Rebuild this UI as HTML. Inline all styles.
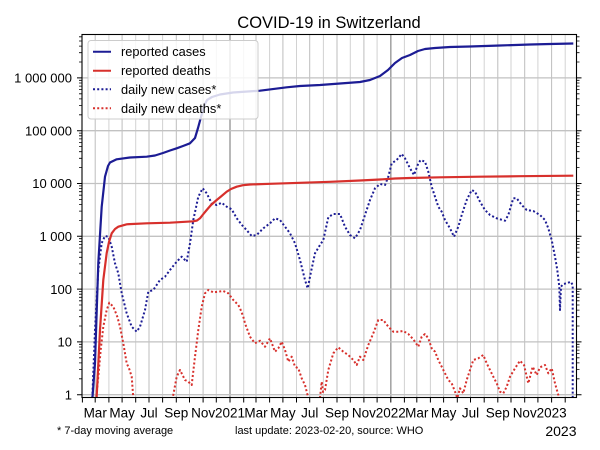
<!DOCTYPE html>
<html><head><meta charset="utf-8"><style>
html,body{margin:0;padding:0;background:#fff;}
svg{display:block;font-family:"Liberation Sans",Arial,sans-serif;}
</style></head><body>
<svg width="600" height="450" viewBox="0 0 600 450" xmlns="http://www.w3.org/2000/svg">
<defs><clipPath id="pc"><rect x="82" y="34.5" width="494.5" height="363"/></clipPath></defs>
<rect x="0" y="0" width="600" height="450" fill="#fff"/>
<!-- vertical gridlines -->
<g stroke="#d2d2d2" stroke-width="1" fill="none">
<path d="M108.9,34.5V397.5M135.7,34.5V397.5M162.6,34.5V397.5M189.5,34.5V397.5M216.3,34.5V397.5M243.7,34.5V397.5M269.6,34.5V397.5M296.5,34.5V397.5M323.4,34.5V397.5M350.3,34.5V397.5M377.1,34.5V397.5M404.4,34.5V397.5M430.4,34.5V397.5M457.3,34.5V397.5M484.2,34.5V397.5M511,34.5V397.5M537.9,34.5V397.5M565.2,34.5V397.5"/>
</g>
<g stroke="#bdbdbd" stroke-width="1" fill="none">
<path d="M95.2,34.5V397.5M122.1,34.5V397.5M149,34.5V397.5M176.3,34.5V397.5M203.1,34.5V397.5M256,34.5V397.5M282.9,34.5V397.5M309.7,34.5V397.5M337,34.5V397.5M363.9,34.5V397.5M416.8,34.5V397.5M443.6,34.5V397.5M470.5,34.5V397.5M497.8,34.5V397.5M524.7,34.5V397.5M551.6,34.5V397.5"/>
</g>
<g stroke="#a6a6a6" stroke-width="1.6" fill="none">
<path d="M230,34.5V397.5M390.8,34.5V397.5"/>
</g>
<!-- horizontal gridlines -->
<g stroke="#c2c2c2" stroke-width="1.3" fill="none">
<path d="M82,394.7H576.5M82,341.9H576.5M82,289.1H576.5M82,236.3H576.5M82,183.5H576.5M82,130.7H576.5M82,77.9H576.5"/>
</g>
<!-- data -->
<g clip-path="url(#pc)" fill="none" stroke-linejoin="round">
<polyline stroke="#1c1c94" stroke-width="2" stroke-dasharray="2 2.2" points="92.3,398 95,330 98.3,270 101.7,243 105,236 108.3,236.7 111.7,246.7 115,263.3 118.3,273.3 121.7,293.3 126.7,313.3 131.7,326.7 136.7,331.7 140,326.7 145,310 148.3,291.7 153.3,290 160,280 165,276.7 170,270 176.7,261.7 181.7,256.7 186.7,261.7 190,243.3 193.3,220 198.3,196.7 202.7,188.3 206.7,193.3 211.7,203.3 216.7,205 221.7,202.7 226.7,206.7 231.7,209.3 236.7,218.3 243.3,226.7 245,228.3 251.7,236 256.7,235 263.3,228.3 270,223.3 275,218.3 280,220 285,226.7 290,233.3 295,243.3 300,260 305,280 307.7,288.3 310.7,273.3 315,253.3 320,245 323.3,240 328.3,217.3 333.3,214 340,214 345,226.7 350,235 355,238.3 360,230 365,215 370,200 375,188.3 380,184 385,185 388.3,176.7 391.7,163.3 396.7,160 401.7,154 405,158.3 410,168.3 414,175 418.3,163.3 420.7,160 425,161.7 428.3,171.7 431.7,186.7 435,196.7 438.3,206.7 441.7,211.7 445,220 450,228.3 454,236.7 458.3,226.7 461.7,215 466.7,200 471.7,190 475,191.7 480,201.7 485,210 490,215 496.7,218.3 505,220.7 508.3,215 513.3,198.3 516.7,198.3 521.7,205 526.7,210 533.3,211 540,215 545,220 548.3,228.3 551.7,240 555,256.7 557.3,270 559.3,286.7 560,310 561,286.7 563.3,284 566.7,283.3 570.7,281.7 572.7,285 572.7,400"/>
<polyline stroke="#d7302c" stroke-width="2" stroke-dasharray="2 2.2" points="96,400 98.3,376.7 100.7,350 103.3,326.7 106.7,310 109.3,302.7 113.3,306.7 117.3,316.7 120,326.7 123.3,343.3 126.7,363.3 129,368.3 131.7,376.7 133.3,398 135,412 171,412 172.7,398 176.7,376.7 180,370 185,380 188.3,381.7 191.7,385 195,356.7 198.3,330 201.7,306.7 205,293.3 208.3,290 213.3,292.3 218.3,291.7 223.3,291 228.3,293.3 233.3,300 238.3,305 240,308.3 243.3,316.7 245,323.3 250,336.7 255,343.3 260,340.7 265,346.7 270,338.3 275,351.7 278.3,348.3 281.7,341.7 285,350 288.3,361.7 291.7,356.7 295,366.7 298.3,368.3 301.7,378.3 305,385 308.3,398 310,412 319,412 320,398 321.7,381.7 323,392 325,390 328.3,370 333.3,353.3 338.3,347.3 343.3,351.7 348.3,355 353.3,360 356.7,365 360,356.7 363.3,360 368.3,345 373.3,333.3 378.3,320 383.3,320 388.3,326.7 393.3,331.7 398.3,331.7 403.3,331 408.3,334 413.3,339.3 418.3,346.7 421.7,336.7 425,334 428.3,338.3 431.7,348.3 435,351.7 438.3,360 441.7,366.7 445,373.3 448.3,380 451.7,383.3 455,391.7 457.3,398 460,388.3 463.3,393.3 466.7,380 470,370 473.3,360 478.3,358.3 483.3,355 486.7,363.3 490,370 493.3,376.7 496.7,383.3 500,391.7 503.3,393.3 506.7,386.7 510,376.7 515,368.3 520,360.7 524,365 528.3,383.3 532.7,366.7 536.7,375 540,367.3 545,365 548.3,373.3 551.7,368.3 555,383.3 558.3,395 560,408"/>
<polyline stroke="#d7302c" stroke-width="2.2" points="96.5,400 98,370 100,330 103.3,280 106.7,253 109,242 111.7,233.3 115,229 118.3,226.7 126.7,224.3 146.7,223.3 170,222.7 193.3,221.3 197,220.5 200,218.3 203,214.5 206.7,210 211,205 216.7,200 221,196.5 226.7,191.7 231,189 236.7,186.7 243,185.2 250,184.5 270,183.8 300,182.8 330,181.8 360,180.5 380,179.5 395,178.5 410,178 440,177.3 480,176.7 520,176.2 573.3,175.7"/>
<polyline stroke="#1c1c94" stroke-width="2.2" points="92.3,400 95,363 98.3,263 101.7,206.7 105,176.7 108,166 110,162.5 116.7,159.3 130,157.5 146.7,156.7 155,155.5 163,153 170,150.5 176.7,148.3 183,146 190,143.3 195,138 198,128 201,117 204,106 207,100 212,97 220,94.5 233,92.5 260,90.7 286.7,87.3 300,86 320,85 340,83.5 360,82 370,80 380,76 388,70 395,63 402,58 410,55 418,51 425,49 435,48 450,47 470,46.5 500,45.5 530,44.5 550,44 573.3,43.5"/>
</g>
<!-- frame -->
<rect x="82" y="34.5" width="494.5" height="363" fill="none" stroke="#000" stroke-width="1.1"/>
<!-- y ticks major -->
<g stroke="#000" stroke-width="1" fill="none">
<path d="M82,394.7h-5M82,341.9h-5M82,289.1h-5M82,236.3h-5M82,183.5h-5M82,130.7h-5M82,77.9h-5"/>
<path d="M576.5,394.7h5M576.5,341.9h5M576.5,289.1h5M576.5,236.3h5M576.5,183.5h5M576.5,130.7h5M576.5,77.9h5"/>
<path stroke-width="0.8" d="M82,378.8h-3M82,369.5h-3M82,362.9h-3M82,357.8h-3M82,353.6h-3M82,350.1h-3M82,347h-3M82,344.3h-3M82,326h-3M82,316.7h-3M82,310.1h-3M82,305h-3M82,300.8h-3M82,297.3h-3M82,294.2h-3M82,291.5h-3M82,273.2h-3M82,263.9h-3M82,257.3h-3M82,252.2h-3M82,248h-3M82,244.5h-3M82,241.4h-3M82,238.7h-3M82,220.4h-3M82,211.1h-3M82,204.5h-3M82,199.4h-3M82,195.2h-3M82,191.7h-3M82,188.6h-3M82,185.9h-3M82,167.6h-3M82,158.3h-3M82,151.7h-3M82,146.6h-3M82,142.4h-3M82,138.9h-3M82,135.8h-3M82,133.1h-3M82,114.8h-3M82,105.5h-3M82,98.9h-3M82,93.8h-3M82,89.6h-3M82,86.1h-3M82,83h-3M82,80.3h-3M82,62h-3M82,52.7h-3M82,46.1h-3M82,41h-3M82,36.8h-3"/>
<path stroke-width="0.8" d="M576.5,378.8h3M576.5,369.5h3M576.5,362.9h3M576.5,357.8h3M576.5,353.6h3M576.5,350.1h3M576.5,347h3M576.5,344.3h3M576.5,326h3M576.5,316.7h3M576.5,310.1h3M576.5,305h3M576.5,300.8h3M576.5,297.3h3M576.5,294.2h3M576.5,291.5h3M576.5,273.2h3M576.5,263.9h3M576.5,257.3h3M576.5,252.2h3M576.5,248h3M576.5,244.5h3M576.5,241.4h3M576.5,238.7h3M576.5,220.4h3M576.5,211.1h3M576.5,204.5h3M576.5,199.4h3M576.5,195.2h3M576.5,191.7h3M576.5,188.6h3M576.5,185.9h3M576.5,167.6h3M576.5,158.3h3M576.5,151.7h3M576.5,146.6h3M576.5,142.4h3M576.5,138.9h3M576.5,135.8h3M576.5,133.1h3M576.5,114.8h3M576.5,105.5h3M576.5,98.9h3M576.5,93.8h3M576.5,89.6h3M576.5,86.1h3M576.5,83h3M576.5,80.3h3M576.5,62h3M576.5,52.7h3M576.5,46.1h3M576.5,41h3M576.5,36.8h3"/>
<!-- x ticks -->
<path d="M82.4,397.5v5M95.2,397.5v5M108.9,397.5v5M122.1,397.5v5M135.7,397.5v5M149,397.5v5M162.6,397.5v5M176.3,397.5v5M189.5,397.5v5M203.1,397.5v5M216.3,397.5v5M230,397.5v5M243.7,397.5v5M256,397.5v5M269.6,397.5v5M282.9,397.5v5M296.5,397.5v5M309.7,397.5v5M323.4,397.5v5M337,397.5v5M350.3,397.5v5M363.9,397.5v5M377.1,397.5v5M390.8,397.5v5M404.4,397.5v5M416.8,397.5v5M430.4,397.5v5M443.6,397.5v5M457.3,397.5v5M470.5,397.5v5M484.2,397.5v5M497.8,397.5v5M511,397.5v5M524.7,397.5v5M537.9,397.5v5M551.6,397.5v5M565.2,397.5v5"/>
</g>
<!-- legend -->
<rect x="88" y="40.5" width="170" height="78.5" rx="3" ry="3" fill="#fff" fill-opacity="0.82" stroke="#cccccc" stroke-width="1"/>
<g fill="none" stroke-width="2">
<path d="M93,51.7H111" stroke="#1c1c94"/>
<path d="M93,70.7H111" stroke="#d7302c"/>
<path d="M93,89.3H111" stroke="#1c1c94" stroke-dasharray="2 2.2"/>
<path d="M93,108.3H111" stroke="#d7302c" stroke-dasharray="2 2.2"/>
</g>
<g font-size="12.8" fill="#000">
<text x="121" y="56.2">reported cases</text>
<text x="121" y="75.2">reported deaths</text>
<text x="121" y="93.8">daily new cases*</text>
<text x="121" y="112.8">daily new deaths*</text>
</g>
<!-- title -->
<text x="329" y="28" font-size="16.5" text-anchor="middle" fill="#000">COVID-19 in Switzerland</text>
<!-- y labels -->
<g font-size="13" text-anchor="end" fill="#000">
<text x="72" y="399.4">1</text>
<text x="72" y="346.6">10</text>
<text x="72" y="293.8">100</text>
<text x="72" y="241">1 000</text>
<text x="72" y="188.2">10 000</text>
<text x="72" y="135.4">100 000</text>
<text x="72" y="82.6">1 000 000</text>
</g>
<!-- x labels -->
<g font-size="13.5" text-anchor="middle" fill="#000">
<text x="95.2" y="417.5">Mar</text>
<text x="122.1" y="417.5">May</text>
<text x="149" y="417.5">Jul</text>
<text x="176.3" y="417.5">Sep</text>
<text x="203.1" y="417.5">Nov</text>
<text x="230" y="417.5">2021</text>
<text x="256" y="417.5">Mar</text>
<text x="282.9" y="417.5">May</text>
<text x="309.7" y="417.5">Jul</text>
<text x="337" y="417.5">Sep</text>
<text x="363.9" y="417.5">Nov</text>
<text x="390.8" y="417.5">2022</text>
<text x="416.8" y="417.5">Mar</text>
<text x="443.6" y="417.5">May</text>
<text x="470.5" y="417.5">Jul</text>
<text x="497.8" y="417.5">Sep</text>
<text x="524.7" y="417.5">Nov</text>
<text x="551.6" y="417.5">2023</text>
</g>
<!-- footer -->
<text x="57" y="434" font-size="11" fill="#000">* 7-day moving average</text>
<text x="235" y="434" font-size="11" fill="#000">last update: 2023-02-20, source: WHO</text>
<text x="576.5" y="436" font-size="14" text-anchor="end" fill="#000">2023</text>
</svg>
</body></html>
